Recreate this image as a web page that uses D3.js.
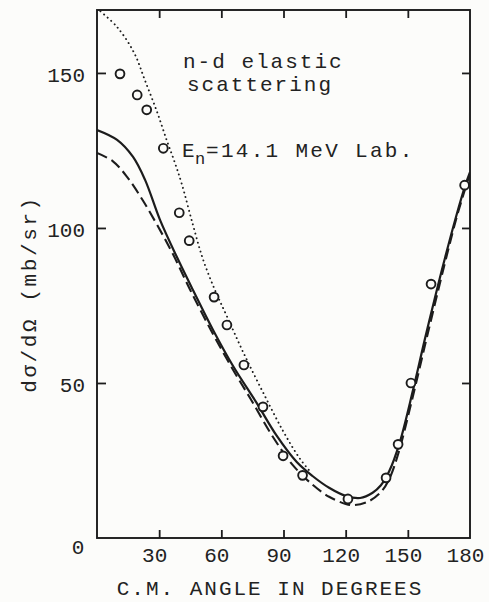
<!DOCTYPE html>
<html><head><meta charset="utf-8">
<script src="https://cdn.jsdelivr.net/npm/d3@7"></script>
<style>
body{margin:0;background:#fcfcfa}
text{font-family:"Liberation Mono","DejaVu Sans Mono",monospace;fill:#222}
</style>
</head><body><svg id="c" width="489" height="602"></svg>
<script>
// ---- data ----
const xTickValues = [30, 60, 90, 120, 150, 180];
const yTickValues = [50, 100, 150];

const measuredAngle = [11.1, 19.4, 24.0, 32.0, 39.7, 44.5, 56.5, 62.7, 70.9, 80.1, 89.8, 99.2, 121.1, 139.5, 145.3, 151.5, 161.2, 177.4];
const measuredValue = [149.7, 142.9, 138.1, 125.7, 104.9, 95.9, 77.7, 68.7, 55.8, 42.3, 26.5, 20.2, 12.6, 19.4, 30.2, 50.0, 81.9, 113.8];

const solidAngle = [0, 9.7, 17.4, 23.2, 30.4, 38.5, 46.3, 56, 65.8, 77.1, 86.7, 96.4, 104, 112, 120, 127, 133, 137, 141, 146, 152.5, 158, 164, 168, 172.8, 177.6, 180];
const solidValue = [131.6, 128.4, 122.9, 115.5, 102.6, 90.7, 80.0, 67.1, 55.3, 43.5, 33.0, 24.5, 20.0, 16.2, 13.6, 12.9, 14.6, 17.0, 21.5, 30.6, 47.7, 63.5, 80.0, 90.5, 102.5, 113.5, 118.0];

const dashedAngle = [0, 7.7, 14.5, 22, 29, 36.7, 45, 55, 65, 74, 85, 94.5, 104, 112, 120, 124, 131, 137, 141, 145.3, 152, 160, 168, 174, 180];
const dashedValue = [124.2, 121.5, 116.5, 109.0, 101.0, 91.5, 80.0, 67.0, 55.0, 45.0, 32.5, 23.5, 17.2, 13.3, 11.0, 10.6, 11.8, 14.8, 19.0, 27.0, 44.5, 67.0, 89.0, 104.5, 117.5];

const dottedAngle = [0, 9.7, 17.9, 23.2, 29.0, 33.8, 37.6, 41.0, 46.3, 51.1, 56.9, 62.7, 70.5, 80.1, 89.8, 98.0, 102.8];
const dottedValue = [170.8, 164.8, 156.5, 147.5, 137.4, 128.0, 121.0, 114.0, 101.0, 90.0, 80.0, 71.5, 60.0, 47.0, 34.5, 25.5, 21.5];

// ---- layout ----
const svg = d3.select("#c");
const m = {left: 97, top: 10, right: 19, bottom: 64};
const W = 489 - m.left - m.right, H = 602 - m.top - m.bottom;
const ink = "#1c1c1c";

const x = d3.scaleLinear().domain([0, 180]).range([0, W]);
const y = d3.scaleLinear().domain([0, 170.3]).range([H, 0]);

svg.append("rect").attr("width", 489).attr("height", 602).attr("fill", "#fcfcfa");
const g = svg.append("g").attr("transform", `translate(${m.left},${m.top})`);

g.append("clipPath").attr("id", "clip").append("rect").attr("width", W).attr("height", H);

// axes with inward ticks
const styleAxis = sel => {
  sel.select(".domain").remove();
  sel.selectAll(".tick line").attr("stroke", ink).attr("stroke-width", 1.8);
};
const axBottom = g.append("g").attr("transform", `translate(0,${H})`)
  .call(d3.axisBottom(x).tickValues(xTickValues).tickSize(-8).tickPadding(9));
styleAxis(axBottom);
axBottom.selectAll("text").attr("font-size", 21).attr("dx", -5);
axBottom.selectAll(".tick").filter(d => d === 180).select("line").remove();

const axTop = g.append("g")
  .call(d3.axisTop(x).tickValues(xTickValues.filter(v => v < 180)).tickSize(-8).tickFormat(""));
styleAxis(axTop);

const axLeft = g.append("g")
  .call(d3.axisLeft(y).tickValues(yTickValues).tickSize(-9).tickPadding(12));
styleAxis(axLeft);
axLeft.selectAll("text").attr("font-size", 21).attr("dy", "0.4em");

const axRight = g.append("g").attr("transform", `translate(${W},0)`)
  .call(d3.axisRight(y).tickValues(yTickValues).tickSize(-8).tickFormat(""));
styleAxis(axRight);

// zero label at origin
g.append("text").attr("x", x(0) - 19).attr("y", y(0) + 9).attr("dy", "0.35em")
  .attr("text-anchor", "middle").attr("font-size", 21).text("0");

// frame
g.append("rect").attr("width", W).attr("height", H)
  .attr("fill", "none").attr("stroke", ink).attr("stroke-width", 1.9);

// curves
const line = d3.line().x(d => x(d[0])).y(d => y(d[1])).curve(d3.curveCatmullRom.alpha(0.5));
const curves = g.append("g").attr("clip-path", "url(#clip)");
curves.append("path").datum(d3.zip(solidAngle, solidValue)).attr("d", line)
  .attr("fill", "none").attr("stroke", ink).attr("stroke-width", 2.2);
curves.append("path").datum(d3.zip(dashedAngle, dashedValue)).attr("d", line)
  .attr("fill", "none").attr("stroke", ink).attr("stroke-width", 2.1).attr("stroke-dasharray", "11,5");
curves.append("path").datum(d3.zip(dottedAngle, dottedValue)).attr("d", line)
  .attr("fill", "none").attr("stroke", ink).attr("stroke-width", 1.9)
  .attr("stroke-linecap", "round").attr("stroke-dasharray", "0.1,4.6");

// measured points
g.append("g").selectAll("circle").data(d3.zip(measuredAngle, measuredValue)).join("circle")
  .attr("cx", d => x(d[0])).attr("cy", d => y(d[1])).attr("r", 4.4)
  .attr("fill", "#fcfcfa").attr("stroke", ink).attr("stroke-width", 1.9);

// annotations
const note = (tx, ty, s, fs, ls) => svg.append("text").attr("x", tx).attr("y", ty)
  .attr("font-size", fs).attr("letter-spacing", ls).text(s);
note(183, 68, "n-d elastic", 21, 2);
note(187, 91, "scattering", 21, 2);
note(182, 157, "E", 21, 0);
note(195, 164, "n", 17, 0);
note(206, 157, "=14.1 MeV Lab.", 21, 2.3);

// axis titles
svg.append("text").attr("x", 270).attr("y", 595).attr("text-anchor", "middle")
  .attr("font-size", 21).attr("letter-spacing", 2).text("C.M. ANGLE IN DEGREES");
svg.append("text").attr("transform", "translate(36,294) rotate(-90)").attr("text-anchor", "middle")
  .attr("font-size", 21).attr("letter-spacing", 2.6).text("dσ/dΩ (mb/sr)");
</script>
</body></html>
